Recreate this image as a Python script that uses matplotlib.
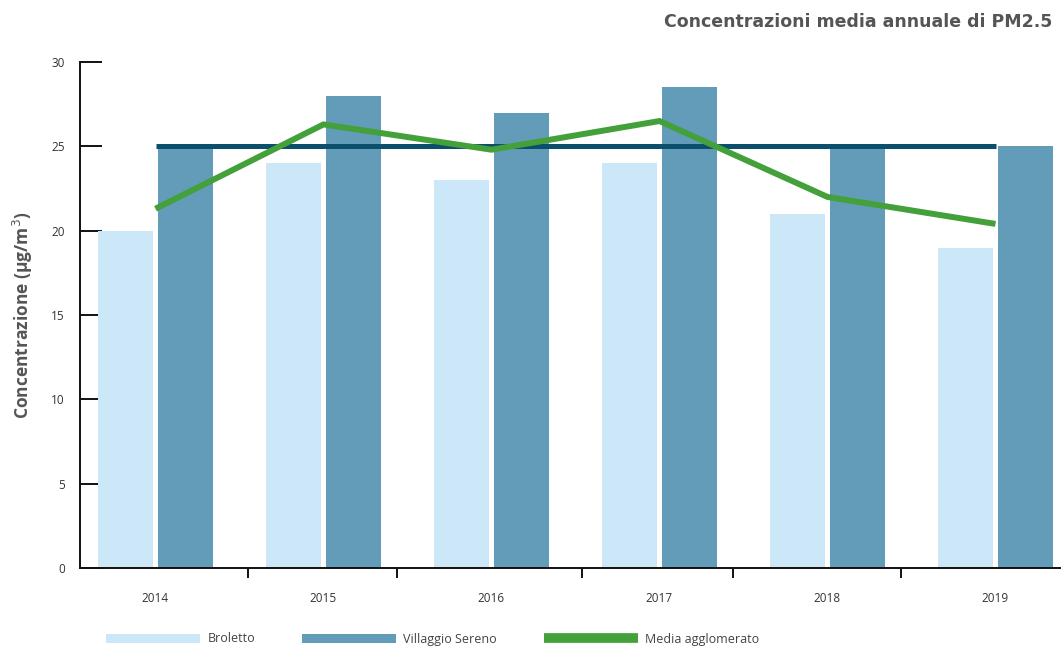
import matplotlib.pyplot as plt
import numpy as np
from matplotlib.ticker import FixedLocator

plt.rcParams["font.family"] = ["Open Sans", "DejaVu Sans"]

anni = ["2014", "2015", "2016", "2017", "2018", "2019"]
broletto = [20, 24, 23, 24, 21, 19]
villaggio_sereno = [25, 28, 27, 28.5, 25, 25]
media_agglomerato = [21.3, 26.3, 24.8, 26.5, 22.0, 20.4]
limite = 25

# separator ticks under the x axis
sep_ticks = [0.55, 1.44, 2.54, 3.44, 4.44]

c_bro = "#cbe7f8"
c_vil = "#639cb8"
c_media = "#43a03a"
c_lim = "#0b4f6c"

x = np.arange(len(anni))
w = 0.327
off = 0.179

fig = plt.figure(figsize=(10.61, 6.46), dpi=100)
ax = fig.add_axes([80 / 1061, 1 - 568 / 646, 1 - 80 / 1061, (568 - 62) / 646])

ax.bar(x - off, broletto, w, color=c_bro, label="Broletto", zorder=2)
ax.bar(x + off, villaggio_sereno, w, color=c_vil, label="Villaggio Sereno", zorder=2)
ax.plot([x[0], x[-1]], [limite, limite], color=c_lim, lw=3.6, zorder=3,
        solid_capstyle="butt")
ax.plot(x, media_agglomerato, color=c_media, lw=4.3, label="Media agglomerato",
        zorder=4, solid_joinstyle="miter", solid_capstyle="butt")

ax.set_xlim((80 - 155.5) / 168, (1061 - 155.5) / 168)
ax.set_ylim(0, 30)
ax.set_yticks(range(0, 31, 5))
ax.set_xticks(x)
ax.set_xticklabels(anni)
ax.xaxis.set_minor_locator(FixedLocator(sep_ticks))

for s in ["top", "right"]:
    ax.spines[s].set_visible(False)
for s in ["left", "bottom"]:
    ax.spines[s].set_color("#111111")
    ax.spines[s].set_linewidth(1.4)

ax.tick_params(axis="y", direction="in", length=16, width=1.4, color="#111111",
               labelsize=8.5, labelcolor="#333333", pad=11)
ax.tick_params(axis="x", which="major", length=0, labelsize=8.5,
               labelcolor="#333333", pad=17)
ax.tick_params(axis="x", which="minor", direction="out", length=7, width=1.4,
               color="#111111")

ax.set_ylabel("Concentrazione (µg/m$^3$)", fontsize=12.5, fontweight="bold",
              color="#555555")
ax.yaxis.set_label_coords(-0.046, 0.5)

fig.text(1052 / 1061, 1 - 22 / 646, "Concentrazioni media annuale di PM2.5",
         ha="right", va="center", fontsize=12.5, fontweight="bold", color="#555555",
         family="DejaVu Sans")

handles, labels = ax.get_legend_handles_labels()
order = [1, 2, 0]
leg = fig.legend([handles[i] for i in order], [labels[i] for i in order],
                 loc="center left", bbox_to_anchor=(95 / 1061, 1 - 639 / 646),
                 ncol=3, frameon=False, fontsize=9, handlelength=7.5,
                 handleheight=0.7, handletextpad=0.6, columnspacing=3.75,
                 labelcolor="#444444")
for h in leg.legend_handles:
    if h.get_label() == "Media agglomerato":
        h.set_linewidth(7)

fig.savefig("out.png", dpi=100)
